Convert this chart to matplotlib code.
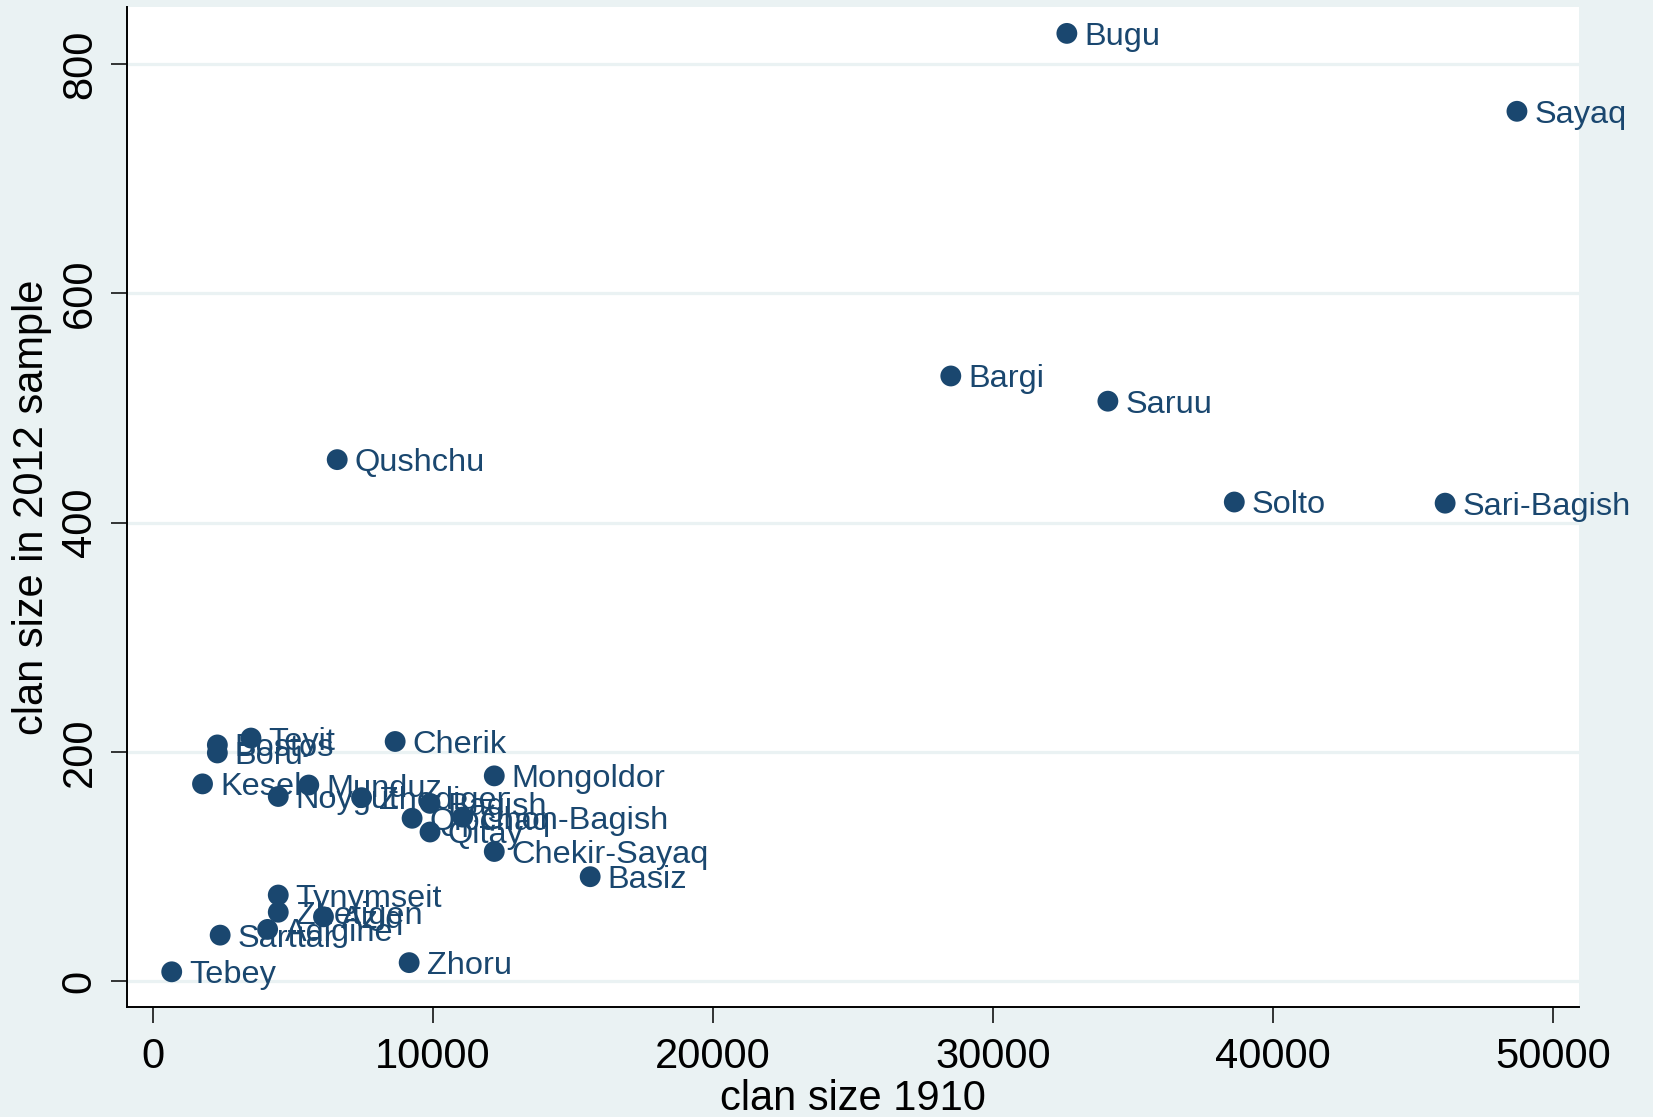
import matplotlib
matplotlib.use("Agg")
import matplotlib.pyplot as plt

# Clan sizes: 1910 census vs. 2012 sample
clans = [
    "Bugu", "Sayaq", "Bargi", "Saruu", "Solto", "Sari-Bagish", "Qushchu",
    "Teyit", "Bostos", "Boru", "Cherik", "Kesek", "Munduz", "Noygut",
    "Zhediger", "Bagish", "Qipchaq", "Chon-Bagish", "Qitay", "Mongoldor",
    "Chekir-Sayaq", "Basiz", "Tynymseit", "Zhetigen", "Aziq", "Adigine",
    "Sarttar", "Zhoru", "Tebey",
]
size_1910 = [
    32640, 48715, 28495, 34105, 38620, 46150, 6580,
    3500, 2300, 2300, 8650, 1770, 5565, 4475,
    7450, 9895, 9255, 11060, 9895, 12190,
    12190, 15615, 4475, 4475, 6090, 4095,
    2400, 9150, 670,
]
size_2012 = [
    827, 759, 528, 506, 418, 417, 455,
    212, 206, 199, 209, 172, 171, 161,
    160, 155, 142, 143, 130, 179,
    113, 91, 75, 60, 56, 45,
    40, 16, 8,
]

x_ticks = [0, 10000, 20000, 30000, 40000, 50000]
y_ticks = [0, 200, 400, 600, 800]

BG = "#EAF2F3"
NAVY = "#1A476F"

plt.rcParams["font.family"] = ["Liberation Sans", "DejaVu Sans"]

fig = plt.figure(figsize=(16.53, 11.17), dpi=100, facecolor=BG)
ax = fig.add_axes([0.0768, 0.0985, 0.8784, 0.8952])
ax.set_facecolor("white")

ax.scatter(size_1910, size_2012, s=225, color=NAVY, edgecolors="none", zorder=3)

for name, xv, yv in zip(clans, size_1910, size_2012):
    ax.annotate(name, (xv, yv), xytext=(12.5, -2.5), textcoords="offset points",
                ha="left", va="center", fontsize=23.4, color=NAVY,
                annotation_clip=False, zorder=4)

ax.set_xlim(-929, 50929)
ax.set_ylim(-22.7, 850)

ax.set_xticks(x_ticks)
ax.set_xticklabels([str(v) for v in x_ticks])
ax.set_yticks(y_ticks)
ax.set_yticklabels([str(v) for v in y_ticks], rotation=90, va="center")

ax.tick_params(axis="both", length=11.5, width=1.1, color="black",
               labelsize=30, labelcolor="black")
ax.tick_params(axis="x", pad=10)
ax.tick_params(axis="y", pad=8)

ax.grid(axis="y", color=BG, linewidth=2.3, zorder=1)
ax.set_axisbelow(True)

for side in ("top", "right"):
    ax.spines[side].set_visible(False)
for side in ("left", "bottom"):
    ax.spines[side].set_color("black")
    ax.spines[side].set_linewidth(1.4)

ax.set_xlabel("clan size 1910", fontsize=30)
ax.set_ylabel("clan size in 2012 sample", fontsize=30)
ax.xaxis.set_label_coords(0.5, -0.092)
ax.xaxis.label.set_va("center")
ax.yaxis.set_label_coords(-0.0654, 0.5)
ax.yaxis.label.set_va("center")

fig.savefig("out.png", dpi=100, facecolor=BG)
